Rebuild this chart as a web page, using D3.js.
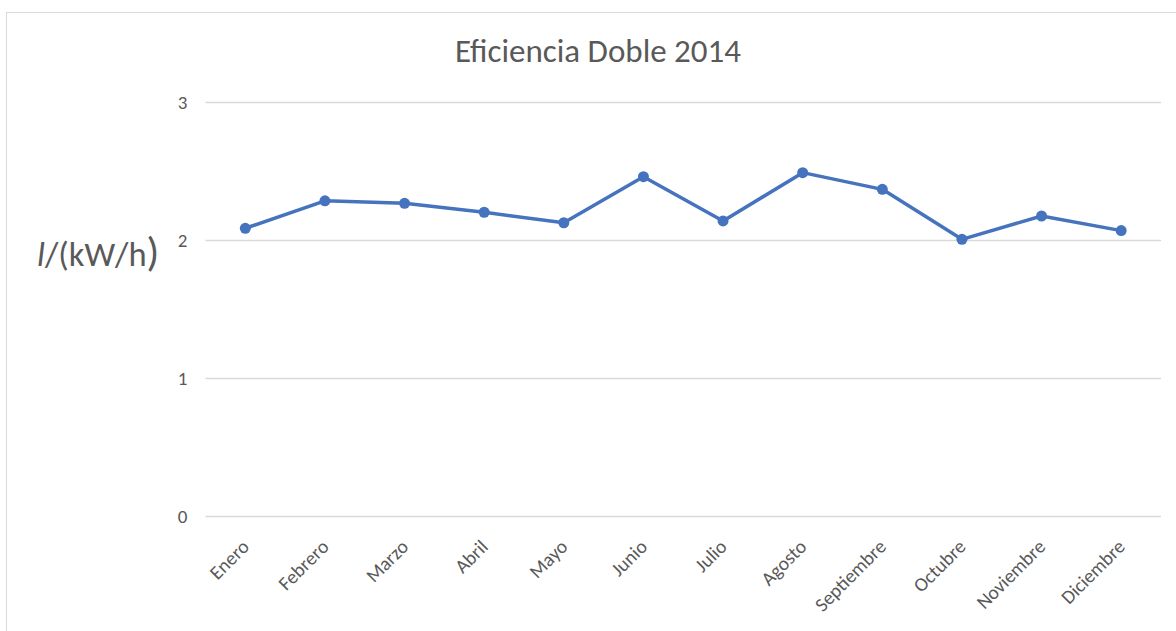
<!DOCTYPE html>
<html><head><meta charset="utf-8">
<script src="https://cdn.jsdelivr.net/npm/d3@7"></script>
<style>body{margin:0;background:#fff;}svg{display:block;}</style>
</head><body>
<svg id="c" width="1176" height="631"></svg>
<script>
const months = ["Enero","Febrero","Marzo","Abril","Mayo","Junio","Julio","Agosto","Septiembre","Octubre","Noviembre","Diciembre"];
const values = [2.085,2.284,2.266,2.201,2.125,2.459,2.138,2.488,2.367,2.005,2.174,2.068];
const yTicks = [0,1,2,3];
const title = "Eficiencia Doble 2014";

const svg = d3.select("#c");
const font = "Carlito, Calibri, 'Open Sans', sans-serif";
const grey = "#595959";
const blue = "#4673bd";

// chart border (top/left)
svg.append("rect").attr("x",6.5).attr("y",12.5).attr("width",1200).attr("height",700)
  .attr("fill","none").attr("stroke","#d9d9d9").attr("stroke-width",1);

const x = d3.scaleBand().domain(months).range([205.5,1161]);
const y = d3.scaleLinear().domain([0,3]).range([516,102]);

// gridlines
svg.append("g").selectAll("line").data(yTicks).join("line")
  .attr("x1",205.5).attr("x2",1161)
  .attr("y1",d=>Math.round(y(d))+0.5).attr("y2",d=>Math.round(y(d))+0.5)
  .attr("stroke","#d9d9d9").attr("stroke-width",1.5);

// y axis labels
const yAxis = d3.axisLeft(y).tickValues(yTicks).tickFormat(d3.format("d")).tickSize(0).tickPadding(18);
const gy = svg.append("g").attr("transform","translate(205.5,0)").call(yAxis);
gy.select(".domain").remove();
gy.selectAll("text").attr("font-family",font).attr("font-size",19).attr("fill",grey);

// x axis labels
const xAxis = d3.axisBottom(x).tickSize(0).tickPadding(0);
const gx = svg.append("g").attr("transform","translate(0,516)").call(xAxis);
gx.select(".domain").remove();
gx.selectAll("text").attr("font-family",font).attr("font-size",19.5).attr("fill",grey)
  .attr("text-anchor","end").attr("dy",0)
  .attr("transform","translate(5,32) rotate(-45)");

// line
const line = d3.line().x((d,i)=>x(months[i])+x.bandwidth()/2).y(d=>y(d));
svg.append("path").datum(values).attr("d",line).attr("fill","none")
  .attr("stroke",blue).attr("stroke-width",3.5).attr("stroke-linejoin","round");
svg.append("g").selectAll("circle").data(values).join("circle")
  .attr("cx",(d,i)=>x(months[i])+x.bandwidth()/2).attr("cy",d=>y(d)).attr("r",5.5)
  .attr("fill",blue);

// title
svg.append("text").attr("x",598).attr("y",62).attr("text-anchor","middle")
  .attr("font-family",font).attr("font-size",33).attr("fill",grey).text(title);

// y axis title
const yt = svg.append("text").attr("x",37).attr("y",266).attr("font-family",font)
  .attr("font-size",34.5).attr("fill",grey);
yt.append("tspan").attr("font-style","italic").text("l");
yt.append("tspan").text("/(kW/h");
yt.append("tspan").attr("font-size",42).text(")");
</script>
</body></html>
